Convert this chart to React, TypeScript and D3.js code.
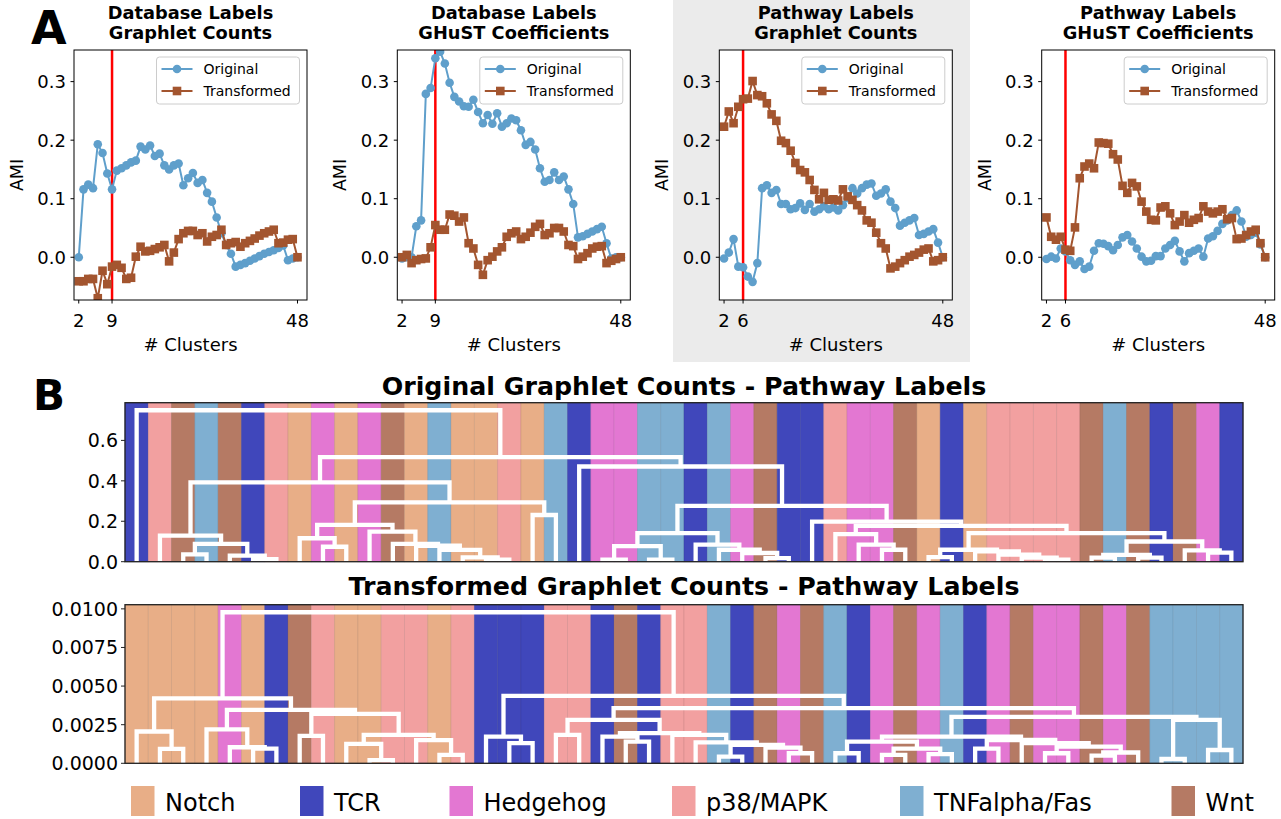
import React from "react";
import * as d3 from "d3";

// x values of panel A (number of clusters)
const clusterCounts = d3.range(2, 49);

// AMI per number of clusters, k = 2..48
const dbGraphletOriginal = [0.0, 0.116, 0.124, 0.118, 0.193, 0.178, 0.143, 0.116, 0.148, 0.152, 0.157, 0.162, 0.165, 0.189, 0.184, 0.191, 0.173, 0.177, 0.157, 0.15, 0.157, 0.16, 0.123, 0.135, 0.144, 0.127, 0.132, 0.11, 0.095, 0.068, 0.041, 0.021, 0.006, -0.016, -0.013, -0.01, -0.006, -0.002, 0.002, 0.006, 0.009, 0.012, 0.016, 0.02, -0.005, -0.002, 0.0];
const dbGraphletTransformed = [-0.041, -0.041, -0.037, -0.037, -0.07, -0.023, -0.046, -0.016, -0.013, -0.018, -0.037, -0.035, 0.001, 0.018, 0.01, 0.011, 0.014, 0.017, 0.021, -0.007, 0.008, 0.031, 0.041, 0.045, 0.045, 0.038, 0.041, 0.027, 0.035, 0.038, 0.047, 0.021, 0.024, 0.026, 0.018, 0.024, 0.028, 0.032, 0.037, 0.041, 0.044, 0.047, 0.024, 0.025, 0.03, 0.031, 0.0];
const dbGhustOriginal = [-0.002, 0.0, 0.0, 0.053, 0.063, 0.279, 0.289, 0.34, 0.351, 0.331, 0.298, 0.274, 0.266, 0.258, 0.257, 0.269, 0.248, 0.229, 0.243, 0.228, 0.246, 0.223, 0.229, 0.237, 0.234, 0.217, 0.192, 0.197, 0.184, 0.152, 0.129, 0.132, 0.145, 0.132, 0.138, 0.116, 0.091, 0.034, 0.036, 0.04, 0.044, 0.048, 0.052, 0.024, -0.002, 0.0, 0.0];
const dbGhustTransformed = [0.0, 0.004, -0.01, -0.005, -0.003, -0.002, 0.017, 0.055, 0.047, 0.047, 0.073, 0.071, 0.061, 0.068, 0.024, 0.015, -0.013, -0.03, -0.005, 0.001, 0.01, 0.017, 0.035, 0.041, 0.044, 0.031, 0.035, 0.042, 0.052, 0.057, 0.038, 0.041, 0.05, 0.05, 0.044, 0.021, 0.019, -0.003, 0.001, 0.007, 0.015, 0.018, 0.019, -0.01, -0.006, -0.003, 0.0];
const pwGraphletOriginal = [-0.002, 0.008, 0.031, -0.016, -0.017, -0.033, -0.042, -0.01, 0.118, 0.123, 0.11, 0.115, 0.091, 0.091, 0.082, 0.084, 0.092, 0.081, 0.091, 0.078, 0.082, 0.087, 0.082, 0.085, 0.08, 0.089, 0.101, 0.118, 0.109, 0.118, 0.124, 0.126, 0.105, 0.109, 0.116, 0.095, 0.084, 0.054, 0.059, 0.063, 0.067, 0.038, 0.04, 0.044, 0.048, 0.025, 0.0];
const pwGraphletTransformed = [0.223, 0.249, 0.229, 0.257, 0.27, 0.271, 0.301, 0.277, 0.275, 0.263, 0.244, 0.233, 0.199, 0.195, 0.182, 0.161, 0.149, 0.145, 0.132, 0.115, 0.099, 0.11, 0.098, 0.099, 0.097, 0.116, 0.104, 0.098, 0.089, 0.08, 0.063, 0.059, 0.042, 0.024, 0.015, -0.019, -0.016, -0.01, -0.005, 0.001, 0.004, 0.008, 0.013, 0.015, -0.007, -0.005, 0.0];
const pwGhustOriginal = [-0.003, 0.001, -0.002, 0.015, 0.01, -0.005, -0.013, -0.007, -0.02, -0.016, 0.011, 0.024, 0.023, 0.019, 0.012, 0.021, 0.034, 0.038, 0.027, 0.015, 0.001, -0.007, -0.006, 0.002, 0.002, 0.015, 0.021, 0.028, 0.01, -0.007, 0.007, 0.011, 0.015, 0.001, 0.032, 0.036, 0.045, 0.057, 0.063, 0.072, 0.08, 0.061, 0.035, 0.038, 0.042, 0.022, 0.0];
const pwGhustTransformed = [0.068, 0.035, 0.03, 0.035, 0.013, 0.011, 0.051, 0.135, 0.155, 0.16, 0.152, 0.196, 0.195, 0.194, 0.176, 0.167, 0.122, 0.11, 0.127, 0.121, 0.095, 0.078, 0.064, 0.063, 0.085, 0.087, 0.075, 0.055, 0.061, 0.072, 0.059, 0.064, 0.067, 0.087, 0.078, 0.075, 0.078, 0.082, 0.065, 0.067, 0.031, 0.032, 0.038, 0.044, 0.047, 0.024, 0.0];

const panelTitles = [
  ["Database Labels", "Graphlet Counts"],
  ["Database Labels", "GHuST Coefficients"],
  ["Pathway Labels", "Graphlet Counts"],
  ["Pathway Labels", "GHuST Coefficients"],
];
const panelOriginal = [dbGraphletOriginal, dbGhustOriginal, pwGraphletOriginal, pwGhustOriginal];
const panelTransformed = [dbGraphletTransformed, dbGhustTransformed, pwGraphletTransformed, pwGhustTransformed];
const chosenClusters = [9, 9, 6, 6];
const clusterTicks = [[2, 9, 48], [2, 9, 48], [2, 6, 48], [2, 6, 48]];
const amiTicks = [0, 0.1, 0.2, 0.3];

// pathway classes for panel B
const pathways = ["Notch", "TCR", "Hedgehog", "p38/MAPK", "TNFalpha/Fas", "Wnt"];
const pathwayColors = ["#e8ae87", "#4047bb", "#e377d2", "#f2a0a0", "#7fafd1", "#b57a64"];
const pathwayCode: Record<string, number> = { N: 0, T: 1, H: 2, P: 3, F: 4, W: 5 };

// leaf order of each dendrogram (N Notch, T TCR, H Hedgehog, P p38/MAPK, F TNFalpha/Fas, W Wnt)
const originalLeaves = "T P W F W T P N H N H W N F N N P N F T H H F F T F H W T T P H H W N T N P P P P W F W T W H T".split(" ");
const transformedLeaves = "N N N N H N T W P N N P P N P T T T P P T W T P P F T W H W F T H W H F T H W H H W H W F F F F".split(" ");

// merges: [left, right, height], leaves numbered 1..48
type Tree = number | [Tree, Tree, number];
const originalTree: Tree = [1,
  [
    [
      [2, [[3, 4, 0.036], [5, [6, 7, 0.012], 0.03], 0.088], 0.129],
      [
        [
          [8, [9, 10, 0.074], 0.116],
          [11, [12, [13, [14, [15, [16, 17, 0.01], 0.021], 0.058], 0.079], 0.088], 0.149],
          0.182,
        ],
        [18, 19, 0.231],
        0.293,
      ],
      0.392,
    ],
    [20,
      [
        [
          [[21, 22, 0.01], [23, 24, 0.01], 0.077],
          [25, [26, [27, [28, 29, 0.018], 0.043], 0.059], 0.084],
          0.141,
        ],
        [30,
          [
            [31, [32, [33, 34, 0.059], 0.084], 0.136],
            [
              [[35, 36, 0.023], [37, [38, [39, [40, 41, 0.01], 0.02], 0.035], 0.051], 0.059],
              [[[42, 43, 0.02], [44, 45, 0.02], 0.034], [46, [47, 48, 0.045], 0.056], 0.1],
              0.141,
            ],
            0.177,
          ],
          0.198,
        ],
        0.276,
      ],
      0.471,
    ],
    0.517,
  ],
  0.749,
];

const transformedTree: Tree = [
  [
    [1, [2, 3, 0.00093], 0.00206],
    [
      [4, [5, [6, 7, 0.00095], 0.00104], 0.0022],
      [
        [8, 9, 0.00177],
        [[10, [11, 12, 0.0002], 0.00126], [13, [14, 15, 0.00054], 0.0015], 0.00184],
        0.0032,
      ],
      0.00346,
    ],
    0.0042,
  ],
  [
    [16, [17, 18, 0.0013], 0.00173],
    [
      [
        [19, 20, 0.00184],
        [
          [21, [22, 23, 0.0014], 0.00173],
          [24, [25, [[26, 27, 0.00043], [28, [29, 30, 0.00065], 0.00101], 0.00119], 0.00136], 0.00184],
          0.00195,
        ],
        0.00281,
      ],
      [
        [
          [[31, 32, 0.00065], [[33, 34, 0.00055], [35, 36, 0.0006], 0.00095], 0.0014],
          [[37, 38, 0.00095], [39, [[40, 41, 0.00065], [[42, 43, 0.0005], 44, 0.0007], 0.00108], 0.00131], 0.00151],
          0.00173,
        ],
        [[45, 46, 0.00028], [47, 48, 0.00086], 0.00281],
        0.003,
      ],
      0.00357,
    ],
    0.00437,
  ],
  0.00978,
];

const originalTicks = [0, 0.2, 0.4, 0.6];
const transformedTicks = [0, 0.0025, 0.005, 0.0075, 0.01];

const FONT = "'DejaVu Sans', sans-serif";
const COL_ORIG = "#5f9fcb";
const COL_TRANS = "#a3552f";

function AmiPanel({ i, left }: { i: number; left: number }) {
  const top = 50, w = 233, h = 250;
  const x = d3.scaleLinear().domain([1, 50]).range([left, left + w]);
  const y = d3.scaleLinear().domain([-0.073, 0.354]).range([top + h, top]);
  const line = d3.line<number>().x((_, j) => x(clusterCounts[j])).y((v) => y(v));
  const orig = panelOriginal[i];
  const trans = panelTransformed[i];
  const cx = left + w / 2;
  const lx = left + w - 7.5 - 143;
  const ly = top + 7;
  return (
    <g fontFamily={FONT}>
      <clipPath id={`clipA${i}`}>
        <rect x={left} y={top} width={w} height={h} />
      </clipPath>
      <text x={cx} y={18.5} textAnchor="middle" fontWeight="bold" fontSize={17.8}>{panelTitles[i][0]}</text>
      <text x={cx} y={38.5} textAnchor="middle" fontWeight="bold" fontSize={17.8}>{panelTitles[i][1]}</text>
      <rect x={left} y={top} width={w} height={h} fill="white" />
      <g clipPath={`url(#clipA${i})`}>
        <line x1={x(chosenClusters[i])} x2={x(chosenClusters[i])} y1={top} y2={top + h} stroke="red" strokeWidth={2.5} />
        <path d={line(orig) || ""} fill="none" stroke={COL_ORIG} strokeWidth={2} />
        {orig.map((v, j) => (
          <circle key={j} cx={x(clusterCounts[j])} cy={y(v)} r={4.3} fill={COL_ORIG} />
        ))}
        <path d={line(trans) || ""} fill="none" stroke={COL_TRANS} strokeWidth={2} />
        {trans.map((v, j) => (
          <rect key={j} x={x(clusterCounts[j]) - 4.3} y={y(v) - 4.3} width={8.6} height={8.6} fill={COL_TRANS} />
        ))}
      </g>
      <rect x={left} y={top} width={w} height={h} fill="none" stroke="black" strokeWidth={1} />
      {amiTicks.map((t) => (
        <g key={t}>
          <line x1={left - 3.5} x2={left} y1={y(t)} y2={y(t)} stroke="black" />
          <text x={left - 8} y={y(t)} dy="0.36em" textAnchor="end" fontSize={18}>{t.toFixed(1)}</text>
        </g>
      ))}
      {clusterTicks[i].map((t) => (
        <g key={t}>
          <line x1={x(t)} x2={x(t)} y1={top + h} y2={top + h + 3.5} stroke="black" />
          <text x={x(t)} y={326.5} textAnchor="middle" fontSize={18}>{t}</text>
        </g>
      ))}
      <text x={cx} y={351} textAnchor="middle" fontSize={18}># Clusters</text>
      <text transform={`translate(${left - 57},${top + h / 2}) rotate(-90)`} textAnchor="middle" dy="0.35em" fontSize={17.5}>AMI</text>
      <rect x={lx} y={ly} width={143} height={47} rx={3} fill="white" fillOpacity={0.85} stroke="#cccccc" />
      <line x1={lx + 5} x2={lx + 36} y1={ly + 12} y2={ly + 12} stroke={COL_ORIG} strokeWidth={2} />
      <circle cx={lx + 20.5} cy={ly + 12} r={4.3} fill={COL_ORIG} />
      <text x={lx + 47} y={ly + 12} dy="0.35em" fontSize={14}>Original</text>
      <line x1={lx + 5} x2={lx + 36} y1={ly + 34} y2={ly + 34} stroke={COL_TRANS} strokeWidth={2} />
      <rect x={lx + 16.2} y={ly + 29.7} width={8.6} height={8.6} fill={COL_TRANS} />
      <text x={lx + 47} y={ly + 34} dy="0.35em" fontSize={14}>Transformed</text>
    </g>
  );
}

function Dendrogram(props: {
  id: string; tree: Tree; leaves: string[]; top: number; bottom: number;
  ticks: number[]; digits: number; title: string; titleY: number;
}) {
  const { id, tree, leaves, top, bottom, ticks, digits, title, titleY } = props;
  const left = 125, right = 1243;
  const x = d3.scaleBand<number>().domain(d3.range(1, 49)).range([left, right]);
  const maxH = (tree as [Tree, Tree, number])[2];
  const y = d3.scaleLinear().domain([0, maxH * 1.05]).range([bottom, top]);
  const paths: string[] = [];
  const walk = (node: Tree): { cx: number; h: number } => {
    if (typeof node === "number") return { cx: (x(node) as number) + x.bandwidth() / 2, h: 0 };
    const a = walk(node[0]);
    const b = walk(node[1]);
    const h = node[2];
    paths.push(`M${a.cx},${y(a.h)}V${y(h)}H${b.cx}V${y(b.h)}`);
    return { cx: (a.cx + b.cx) / 2, h };
  };
  walk(tree);
  return (
    <g fontFamily={FONT}>
      <clipPath id={id}>
        <rect x={left} y={top} width={right - left} height={bottom - top} />
      </clipPath>
      <text x={(left + right) / 2} y={titleY} textAnchor="middle" fontWeight="bold" fontSize={25.3}>{title}</text>
      {leaves.map((code, j) => {
        const c = pathwayColors[pathwayCode[code]];
        return (
          <rect key={j} x={x(j + 1)} y={top} width={x.bandwidth()} height={bottom - top}
            fill={c} stroke={d3.color(c)!.darker(0.5).formatHex()} strokeOpacity={0.5} strokeWidth={0.8} />
        );
      })}
      <g clipPath={`url(#${id})`}>
        {paths.map((d, j) => (
          <path key={j} d={d} fill="none" stroke="white" strokeWidth={4.3} />
        ))}
      </g>
      <rect x={left} y={top} width={right - left} height={bottom - top} fill="none" stroke="#222" strokeWidth={1.3} />
      {ticks.map((t) => (
        <g key={t}>
          <line x1={left - 4} x2={left} y1={y(t)} y2={y(t)} stroke="#222" />
          <text x={left - 7} y={y(t)} dy="0.36em" textAnchor="end" fontSize={19}>{t.toFixed(digits)}</text>
        </g>
      ))}
    </g>
  );
}

const legendX = [131, 300, 449.5, 672, 900, 1171.5];

export default function App() {
  return (
    <svg width={1281} height={819} style={{ position: "absolute", left: 0, top: 0, background: "white" }}>
      <rect x={0} y={0} width={1281} height={819} fill="white" />
      <rect x={673} y={0} width={297} height={362} fill="#ebebeb" />
      {[74, 397.3, 719.3, 1041.7].map((left, i) => (
        <AmiPanel key={i} i={i} left={left} />
      ))}
      <text x={31} y={44} fontFamily={FONT} fontWeight="bold" fontSize={46}>A</text>
      <text x={33} y={410} fontFamily={FONT} fontWeight="bold" fontSize={42}>B</text>
      <Dendrogram id="clipB1" tree={originalTree} leaves={originalLeaves} top={402.7} bottom={561.7}
        ticks={originalTicks} digits={1} title="Original Graphlet Counts - Pathway Labels" titleY={395} />
      <Dendrogram id="clipB2" tree={transformedTree} leaves={transformedLeaves} top={604.7} bottom={763.3}
        ticks={transformedTicks} digits={4} title="Transformed Graphlet Counts - Pathway Labels" titleY={595} />
      <g fontFamily={FONT}>
        {pathways.map((p, j) => (
          <g key={p}>
            <rect x={legendX[j]} y={786} width={23.5} height={30} fill={pathwayColors[j]} />
            <text x={legendX[j] + 34} y={810.5} fontSize={24}>{p}</text>
          </g>
        ))}
      </g>
    </svg>
  );
}
